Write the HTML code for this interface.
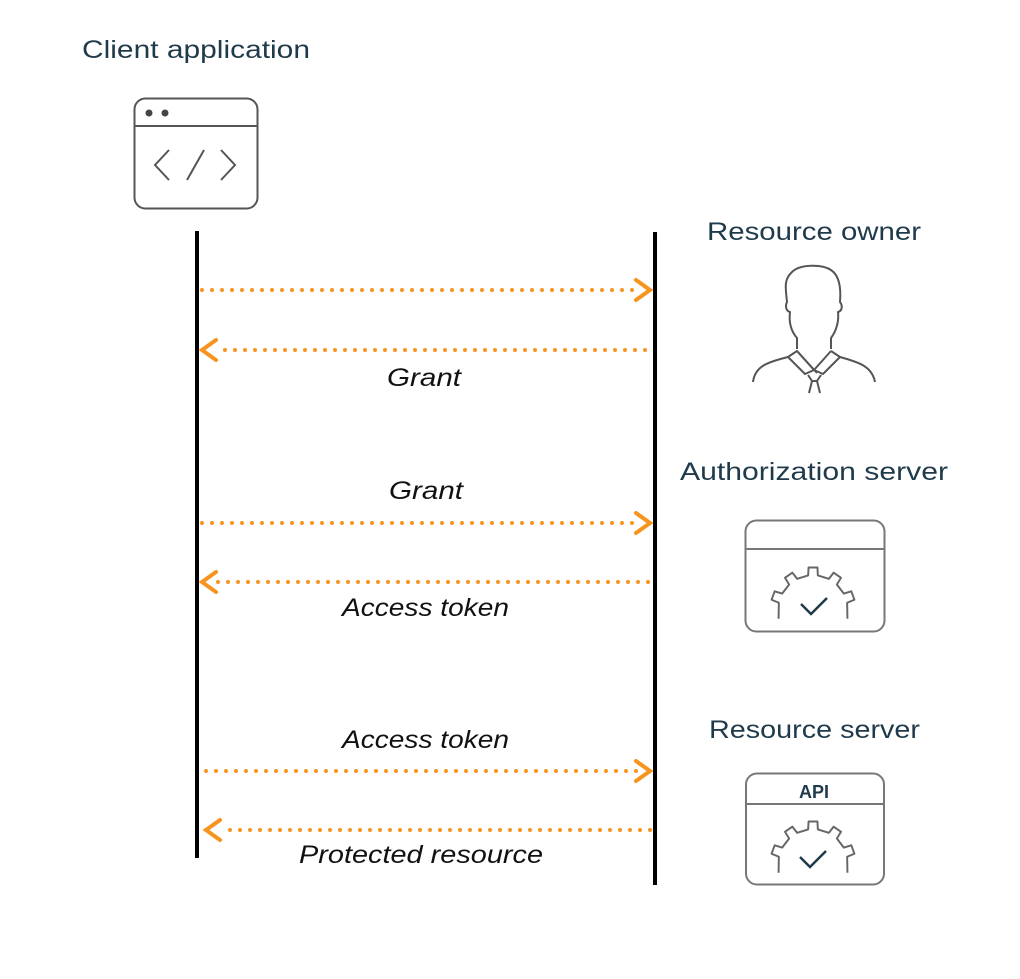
<!DOCTYPE html>
<html><head><meta charset="utf-8"><style>
html,body{margin:0;padding:0;background:#fff;}
svg{display:block;}
text{font-family:"Liberation Sans",sans-serif;fill:#1f3a4a;}
.t{font-size:25px;}
.l{font-size:25px;font-style:italic;fill:#111;}
</style></head><body>
<svg width="1020" height="979" viewBox="0 0 1020 979" xmlns="http://www.w3.org/2000/svg">
<defs>
<polyline id="gear" fill="none" stroke="#666" stroke-width="2" stroke-linejoin="round" points="35.5,9 35.2,-7.5 42.7,-10.6 39.5,-19.3 31.8,-16.9 24.6,-26.3 28.9,-33.2 21.3,-38.5 16.3,-32.1 5.0,-35.6 4.6,-43.8 -4.6,-43.8 -5.0,-35.6 -16.3,-32.1 -21.3,-38.5 -28.9,-33.2 -24.6,-26.3 -31.8,-16.9 -39.5,-19.3 -42.7,-10.6 -35.2,-7.5 -35.5,9"/>
</defs>
<text class="t" x="82" y="58" textLength="228" lengthAdjust="spacingAndGlyphs">Client application</text>
<text class="t" x="707" y="240" textLength="214" lengthAdjust="spacingAndGlyphs">Resource owner</text>
<text class="t" x="680" y="480" textLength="268" lengthAdjust="spacingAndGlyphs">Authorization server</text>
<text class="t" x="709" y="738" textLength="211" lengthAdjust="spacingAndGlyphs">Resource server</text>

<rect x="134.5" y="98.5" width="123" height="110" rx="11" fill="none" stroke="#555" stroke-width="2"/>
<line x1="135" y1="126" x2="257" y2="126" stroke="#555" stroke-width="2"/>
<circle cx="149" cy="113" r="3.5" fill="#444"/><circle cx="165" cy="113" r="3.5" fill="#444"/>
<polyline points="169,150 155,165 169,180" fill="none" stroke="#555" stroke-width="2"/>
<line x1="204" y1="150" x2="187" y2="180" stroke="#555" stroke-width="2"/>
<polyline points="221,150 235,165 221,180" fill="none" stroke="#555" stroke-width="2"/>

<line x1="197" y1="231" x2="197" y2="858" stroke="#000" stroke-width="4"/>
<line x1="655" y1="232" x2="655" y2="885" stroke="#000" stroke-width="4"/>

<g stroke="#f7941d" stroke-width="4" stroke-linecap="round" fill="none">
<line x1="202" y1="290" x2="640" y2="290" stroke-dasharray="0 10"/>
<polyline points="636,280 650,290 636,300"/>
<line x1="645" y1="350" x2="215" y2="350" stroke-dasharray="0 10"/>
<polyline points="216,340 202,350 216,360"/>
<line x1="202" y1="523" x2="640" y2="523" stroke-dasharray="0 10"/>
<polyline points="636,513 650,523 636,533"/>
<line x1="648" y1="582" x2="215" y2="582" stroke-dasharray="0 10"/>
<polyline points="216,572 202,582 216,592"/>
<line x1="206" y1="771" x2="640" y2="771" stroke-dasharray="0 10"/>
<polyline points="636,761 650,771 636,781"/>
<line x1="650" y1="830" x2="220" y2="830" stroke-dasharray="0 10"/>
<polyline points="220,820 206,830 220,840"/>
</g>

<text class="l" x="387" y="386" textLength="74" lengthAdjust="spacingAndGlyphs">Grant</text>
<text class="l" x="389" y="499" textLength="74" lengthAdjust="spacingAndGlyphs">Grant</text>
<text class="l" x="342" y="616" textLength="167" lengthAdjust="spacingAndGlyphs">Access token</text>
<text class="l" x="342" y="748" textLength="167" lengthAdjust="spacingAndGlyphs">Access token</text>
<text class="l" x="299" y="863" textLength="244" lengthAdjust="spacingAndGlyphs">Protected resource</text>

<g fill="none" stroke="#555" stroke-width="2" stroke-linejoin="round">
<path d="M797,349 L797,338 C790,330 789,320 790,312 C786,311 785,306 787,302 C786,290 783,280 792,272 C800,264 822,264 831,270 C840,276 841,290 840,302 C843,306 842,311 838,312 C839,320 837,330 831,338 L831,349"/>
<path d="M753,382 C755,366 768,362 788,357 L797,351 L817,373 M831,351 L840,357 C858,362 872,366 875,382"/>
<path d="M788,357 L805,374 L814,370 L797,351 M840,357 L823,374 L814,370 L831,351"/>
<path d="M808,375 L812,381 L817,381 L821,375"/>
<path d="M812,381 L809,393 M817,381 L820,393"/>
</g>

<rect x="745.5" y="520.5" width="139" height="111" rx="11" fill="none" stroke="#777" stroke-width="2"/>
<line x1="746" y1="549" x2="884" y2="549" stroke="#777" stroke-width="2"/>
<use href="#gear" transform="translate(813,610) scale(0.97)"/>
<polyline points="801,604 811,614 827,598" fill="none" stroke="#1f3a4a" stroke-width="2.5"/>

<rect x="746" y="773.5" width="138" height="111" rx="11" fill="none" stroke="#777" stroke-width="2"/>
<line x1="746" y1="804" x2="884" y2="804" stroke="#777" stroke-width="2"/>
<text x="814" y="798" text-anchor="middle" style="font-size:18px;font-weight:bold;">API</text>
<use href="#gear" transform="translate(813,864) scale(0.97)"/>
<polyline points="800,857 810,867 826,851" fill="none" stroke="#1f3a4a" stroke-width="2.5"/>
</svg>
</body></html>
